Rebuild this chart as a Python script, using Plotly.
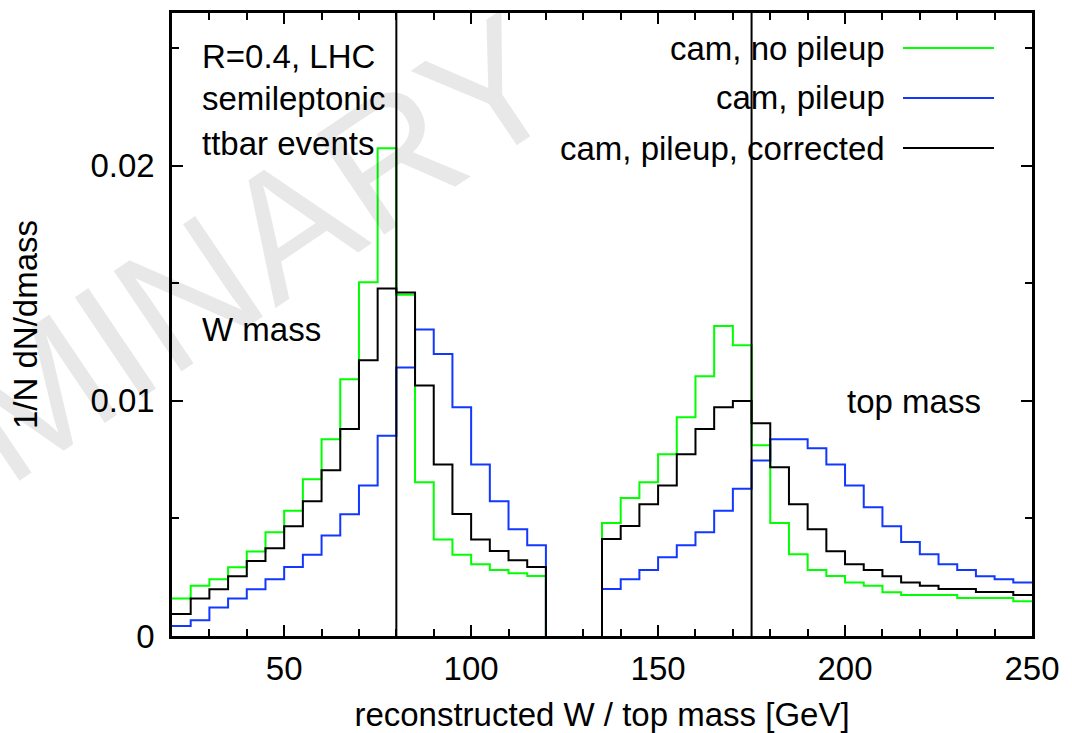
import plotly.graph_objects as go

# ---------------- data ----------------
w_bin_left = [20, 25, 30, 35, 40, 45, 50, 55, 60, 65, 70, 75, 80, 85, 90, 95, 100, 105, 110, 115]
w_bin_right_edge = 120
top_bin_left = [135, 140, 145, 150, 155, 160, 165, 170, 175, 180, 185, 190, 195, 200, 205, 210,
                215, 220, 225, 230, 235, 240, 245]
top_bin_right_edge = 250

w_nopileup = [0.00160, 0.00214, 0.00241, 0.00292, 0.00359, 0.00441, 0.00533, 0.00667, 0.00837, 0.01092,
              0.01505, 0.02075, 0.01452, 0.00654, 0.00411, 0.00346, 0.00305, 0.00281, 0.00267, 0.00255]
w_pileup = [0.00043, 0.00067, 0.00121, 0.00160, 0.00199, 0.00241, 0.00294, 0.00346, 0.00428, 0.00518,
            0.00640, 0.00852, 0.01142, 0.01304, 0.01200, 0.00973, 0.00730, 0.00573, 0.00454, 0.00386]
w_corrected = [0.00094, 0.00160, 0.00199, 0.00254, 0.00319, 0.00373, 0.00467, 0.00573, 0.00705, 0.00881,
               0.01173, 0.01478, 0.01461, 0.01065, 0.00730, 0.00519, 0.00411, 0.00362, 0.00322, 0.00294]

top_nopileup = [0.00481, 0.00587, 0.00654, 0.00773, 0.00930, 0.01105, 0.01319, 0.01237, 0.00811, 0.00481,
                0.00348, 0.00281, 0.00255, 0.00228, 0.00214, 0.00186, 0.00174, 0.00174, 0.00174, 0.00162,
                0.00162, 0.00162, 0.00148]
top_pileup = [0.00200, 0.00241, 0.00281, 0.00335, 0.00386, 0.00441, 0.00533, 0.00626, 0.00746, 0.00837,
              0.00837, 0.00799, 0.00730, 0.00640, 0.00548, 0.00467, 0.00400, 0.00348, 0.00305, 0.00281,
              0.00254, 0.00241, 0.00228]
top_corrected = [0.00413, 0.00468, 0.00560, 0.00640, 0.00773, 0.00881, 0.00973, 0.01000, 0.00905, 0.00718,
                 0.00560, 0.00454, 0.00360, 0.00305, 0.00281, 0.00254, 0.00228, 0.00214, 0.00200, 0.00200,
                 0.00187, 0.00187, 0.00174]

series_names = ["cam, no pileup", "cam, pileup", "cam, pileup, corrected"]
series_colors = ["#00ff00", "#1238ff", "#000000"]
mass_lines = [80, 175]  # reference W and top mass markers
x_tickvals = [50, 100, 150, 200, 250]
x_range = [20, 250]
y_range = [0, 0.0265]

# ---------------- geometry helpers ----------------
W, H = 1072, 733
L, R, T, B = 172, 1032, 13, 636
FONT = "Liberation Sans, Arial, sans-serif"
FS = 33


def px(xp):
    return (xp - L) / (R - L)


def py(yp):
    return (B - yp) / (B - T)


def steps(w_vals, t_vals):
    xs = list(w_bin_left) + [w_bin_right_edge, None] + [top_bin_left[0]] + list(top_bin_left) + [top_bin_right_edge]
    ys = list(w_vals) + [0.0, None] + [0.0] + list(t_vals) + [t_vals[-1]]
    return xs, ys


fig = go.Figure()
data_sets = [(w_nopileup, top_nopileup), (w_pileup, top_pileup), (w_corrected, top_corrected)]
for (wv, tv), name, col in zip(data_sets, series_names, series_colors):
    xs, ys = steps(wv, tv)
    fig.add_trace(go.Scatter(x=xs, y=ys, mode="lines", connectgaps=False,
                             line=dict(shape="hv", color=col, width=2),
                             name=name, showlegend=False, hoverinfo="skip"))
# empty trace to activate the mirrored tick axes (top / right)
fig.add_trace(go.Scatter(x=[], y=[], xaxis="x2", yaxis="y2", showlegend=False, hoverinfo="skip"))

for m in mass_lines:
    fig.add_shape(type="line", xref="x", yref="paper", x0=m, x1=m, y0=0, y1=1,
                  line=dict(color="black", width=2))

annotations = []
# watermark
annotations.append(dict(text="PRELIMINARY", xref="paper", yref="paper", x=px(45), y=py(390),
                        xanchor="center", yanchor="middle", textangle=-34, showarrow=False,
                        font=dict(family=FONT, size=176, color="rgba(0,0,0,0.09)")))
# info text
for txt, yc in [("R=0.4, LHC", 56), ("semileptonic", 99), ("ttbar events", 143), ("W mass", 329)]:
    annotations.append(dict(text=txt, xref="paper", yref="paper", x=px(200), y=py(yc),
                            xanchor="left", yanchor="middle", showarrow=False,
                            font=dict(family=FONT, size=FS, color="black")))
annotations.append(dict(text="top mass", xref="paper", yref="paper", x=px(845), y=py(401),
                        xanchor="left", yanchor="middle", showarrow=False,
                        font=dict(family=FONT, size=FS, color="black")))
# legend
for i, (name, col) in enumerate(zip(series_names, series_colors)):
    yc = 48 + 50 * i
    annotations.append(dict(text=name, xref="paper", yref="paper", x=px(887), y=py(yc),
                            xanchor="right", yanchor="middle", showarrow=False,
                            font=dict(family=FONT, size=FS, color="black")))
    fig.add_shape(type="line", xref="paper", yref="paper", x0=px(903), x1=px(994), y0=py(yc), y1=py(yc),
                  line=dict(color=col, width=2))

tickstyle = dict(ticks="inside", ticklen=11, tickwidth=2, tickcolor="black")
axis_common = dict(showgrid=False, zeroline=False, showline=True, linecolor="black", linewidth=2.5,
                   mirror=True, automargin=False, tickfont=dict(family=FONT, size=FS, color="black"),
                   **tickstyle)
x_minor = dict(dtick=10, tick0=0, ticks="inside", ticklen=7, tickwidth=2, tickcolor="black")
y_minor = dict(dtick=0.005, tick0=0, ticks="inside", ticklen=7, tickwidth=2, tickcolor="black")

fig.update_layout(
    width=W, height=H,
    margin=dict(l=L, r=W - R, t=T, b=H - B, autoexpand=False),
    paper_bgcolor="white", plot_bgcolor="white",
    annotations=annotations,
    xaxis=dict(range=x_range, tickvals=x_tickvals, minor=x_minor, ticklabelstandoff=2,
               title=dict(text="reconstructed W / top mass [GeV]", standoff=18,
                          font=dict(family=FONT, size=FS, color="black")),
               **axis_common),
    yaxis=dict(range=y_range, dtick=0.01, tick0=0, minor=y_minor, ticklabelstandoff=8,
               title=dict(text="1/N dN/dmass", standoff=43,
                          font=dict(family=FONT, size=FS, color="black")),
               **axis_common),
    xaxis2=dict(range=x_range, overlaying="x", side="top", anchor="y2", tickvals=x_tickvals,
                minor=x_minor, showticklabels=False, showgrid=False, zeroline=False, showline=False,
                automargin=False, **tickstyle),
    yaxis2=dict(range=y_range, overlaying="y", side="right", anchor="x2", dtick=0.01, tick0=0,
                minor=y_minor, showticklabels=False, showgrid=False, zeroline=False, showline=False,
                automargin=False, **tickstyle),
)

fig.write_html("out.html")
